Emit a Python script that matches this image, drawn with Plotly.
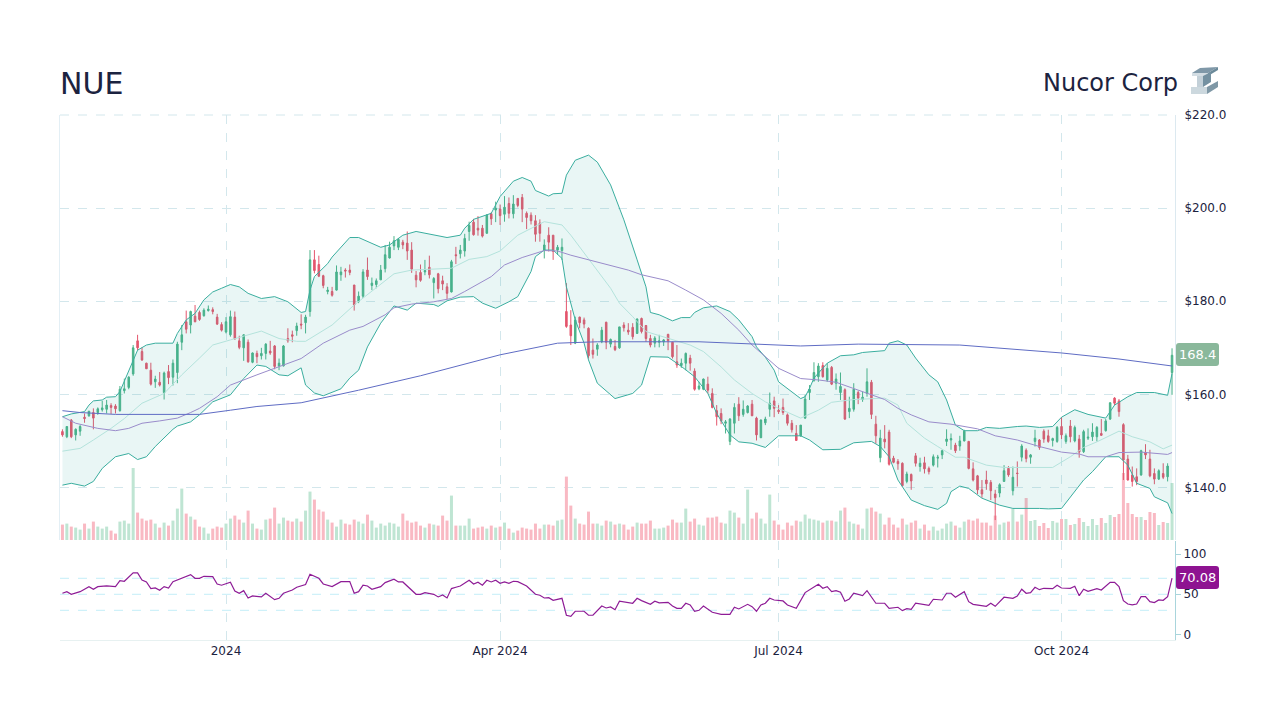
import plotly.graph_objects as go

open_ = [152.0,150.9,154.5,151.3,152.1,155.1,155.4,156.1,156.1,156.7,156.8,157.6,157.5,156.5,160.8,161.5,164.4,171.5,169.2,166.7,165.2,162.7,162.6,160.4,164.9,163.7,164.7,171.2,175.6,174.9,176.8,177.6,176.9,178.0,178.2,176.6,175.0,173.4,172.8,176.6,171.5,170.0,171.2,166.9,168.8,168.3,168.8,169.3,170.4,166.1,166.1,172.0,
172.8,173.7,175.1,175.4,177.8,188.9,187.9,185.5,182.1,182.1,182.4,185.7,186.7,186.7,183.5,180.0,181.1,186.7,183.4,183.6,184.6,187.0,189.3,191.9,191.6,192.7,192.5,191.0,185.6,186.2,186.3,187.3,184.0,185.9,184.4,183.1,182.0,190.0,190.2,190.8,195.0,197.0,195.7,195.7,194.6,198.8,199.6,199.8,198.7,201.0,198.8,202.1,202.3,198.9,198.5,197.3,196.8,191.0,194.2,194.2,191.0,190.9,
177.8,174.9,171.0,176.6,176.0,174.2,169.5,169.7,171.3,175.5,170.8,170.3,170.0,174.9,173.8,174.4,173.1,176.3,174.8,172.0,171.0,171.2,171.3,172.9,171.2,167.0,166.2,166.7,167.8,165.0,161.2,161.1,162.2,160.2,156.5,155.9,153.8,149.9,153.8,157.9,155.7,156.1,157.9,154.9,150.7,153.9,156.8,158.6,156.6,157.2,155.6,153.8,151.6,151.1,154.9,
160.4,163.0,163.8,166.2,163.1,165.8,162.4,160.4,161.0,156.3,156.8,160.4,158.9,160.2,162.6,153.6,146.4,150.4,151.9,146.3,145.6,145.2,141.3,142.8,146.8,144.5,145.3,144.1,144.8,146.3,147.0,149.9,150.2,149.1,148.9,150.0,149.9,144.0,142.5,139.5,141.6,141.1,138.6,138.8,141.3,144.1,139.3,143.1,146.5,148.0,146.5,149.9,150.2,152.1,151.1,150.1,149.9,153.1,149.9,153.2,150.0,150.4,147.7,150.6,150.9,150.9,151.6,152.2,154.7,159.2,158.6,153.5,146.1,142.7,142.3,142.7,147.5,146.1,143.0,141.8,143.0,142.3,164.7]
high = [152.5,153.1,154.7,152.7,153.4,155.9,156.4,157.0,157.2,158.6,158.8,158.1,157.9,161.8,163.4,163.9,170.6,172.8,170.1,166.8,166.8,164.0,164.8,164.9,166.3,167.5,171.3,174.9,178.0,178.0,179.2,178.0,178.5,179.1,178.7,177.3,175.5,176.6,178.0,177.8,172.6,172.9,171.8,169.0,169.4,170.0,171.0,171.5,170.6,167.7,170.6,174.2,
173.7,175.4,177.2,177.1,191.0,191.0,189.8,185.7,183.1,183.1,187.7,187.4,187.1,187.9,183.5,182.1,186.9,189.4,185.1,184.9,187.8,192.1,192.8,194.0,193.6,193.2,195.0,192.7,186.5,187.9,188.9,189.8,185.2,186.1,185.5,183.9,188.9,191.7,192.1,194.5,197.1,197.7,198.3,196.4,198.7,199.1,201.4,200.8,202.6,202.3,202.8,202.1,203.05,199.3,199.1,198.5,197.6,193.3,195.9,194.2,192.1,193.5,
183.9,178.1,176.7,176.7,176.5,174.4,172.0,171.0,174.5,175.6,172.0,171.7,174.5,175.5,175.3,175.3,176.3,176.5,174.9,172.8,172.5,172.8,171.9,173.0,171.3,170.6,167.7,169.0,168.5,165.6,162.7,163.4,163.8,161.3,157.7,157.0,154.5,154.9,158.1,159.4,158.7,157.7,158.8,155.2,154.6,155.2,160.4,159.5,157.7,159.1,155.9,154.5,153.4,153.4,159.9,
162.0,166.9,166.7,166.9,166.7,166.1,164.5,164.7,161.3,159.5,162.4,160.8,160.6,165.6,163.1,155.4,152.4,153.4,152.4,146.8,146.1,145.4,143.4,143.0,147.4,146.4,146.6,144.5,147.1,147.0,148.1,152.5,151.6,149.6,151.1,152.4,150.0,145.4,142.7,141.6,143.6,141.6,139.5,140.9,144.8,144.6,144.5,145.6,149.3,148.4,147.2,152.4,150.4,152.5,152.4,150.7,153.2,155.1,151.6,154.5,153.3,151.3,152.4,152.7,153.8,153.2,154.7,154.7,158.3,159.4,159.0,153.8,147.0,144.5,144.1,148.1,149.3,148.1,144.1,143.9,145.2,145.2,169.9]
low = [150.9,150.6,150.6,150.1,151.1,153.9,155.2,152.5,155.6,156.3,155.9,155.8,155.9,156.3,160.2,161.1,164.0,169.5,167.2,165.5,161.9,161.4,161.7,158.9,162.2,161.9,162.4,169.5,173.1,173.1,175.5,175.8,176.7,177.8,177.2,174.9,173.5,173.1,172.4,171.8,169.7,167.2,166.8,166.7,166.7,167.5,167.5,168.5,165.4,165.2,166.0,171.1,
171.2,172.6,174.0,173.1,176.7,186.0,185.2,182.8,181.5,181.0,182.3,184.4,185.1,185.6,178.0,179.6,180.7,184.6,182.4,182.8,184.6,186.2,189.2,191.0,191.0,191.2,188.9,186.1,183.0,184.2,185.6,184.9,180.6,181.7,182.4,180.5,181.9,188.0,189.2,189.6,193.0,194.1,194.1,193.7,194.6,196.4,197.0,196.4,197.1,197.8,197.8,200.2,197.0,195.5,196.5,192.8,192.8,189.2,190.7,188.9,190.0,188.9,
174.3,170.6,170.8,174.2,174.2,167.7,167.7,168.3,171.0,169.7,170.1,169.3,169.8,173.5,172.8,171.8,173.0,173.1,171.3,170.1,170.1,170.1,170.4,169.5,167.7,165.7,165.7,165.2,165.1,160.8,160.9,160.9,160.2,157.0,153.3,153.6,151.6,149.1,151.6,154.3,155.2,155.9,155.4,150.1,150.6,153.4,155.2,155.1,155.8,155.6,153.3,151.8,150.0,150.9,154.7,
158.8,162.7,162.7,163.6,162.7,162.0,161.0,158.8,154.5,154.9,156.3,157.9,158.4,159.5,154.7,149.4,145.4,148.4,144.7,145.2,143.8,140.2,140.9,139.5,144.5,143.4,143.0,142.8,144.5,144.3,146.1,148.9,148.1,147.4,147.9,149.9,143.9,141.3,138.6,137.8,139.5,137.3,133.0,137.9,141.3,142.3,138.3,140.2,145.6,145.4,145.1,148.8,148.1,149.6,149.6,148.8,149.6,150.4,149.4,149.7,149.7,146.4,147.4,150.2,150.0,149.9,151.1,152.0,154.5,157.7,155.2,141.6,141.5,140.2,140.5,142.5,146.1,142.2,140.7,141.6,141.8,141.3,159.9]
close = [151.3,153.1,150.9,152.5,153.1,154.8,156.4,154.9,156.9,157.1,157.7,157.2,156.9,161.1,161.2,163.7,170.0,170.0,167.4,165.5,162.2,163.3,162.0,164.6,163.6,166.7,170.8,172.8,174.0,177.8,175.6,176.1,178.1,178.3,177.8,175.1,173.8,175.6,176.7,171.9,170.1,172.8,167.0,168.9,168.1,168.8,170.8,168.9,166.0,166.7,170.4,171.5,
172.5,174.7,174.9,176.6,188.9,186.6,185.4,183.4,182.4,181.3,186.3,186.3,186.5,186.2,179.2,181.1,186.3,185.3,183.9,184.4,186.7,190.0,191.6,193.0,193.3,192.1,190.8,186.9,184.6,184.5,186.6,185.7,184.9,182.7,183.7,181.7,188.5,189.8,191.0,193.5,196.3,194.3,195.3,194.0,198.5,197.7,200.0,198.4,200.2,198.9,200.9,200.6,199.8,198.0,197.3,194.4,194.6,192.1,192.7,190.7,191.6,191.6,
174.6,172.6,176.0,175.4,175.1,168.3,168.6,170.6,173.8,171.2,171.8,169.6,174.5,174.3,173.4,172.4,176.2,173.5,172.0,170.6,172.1,171.5,171.7,171.5,168.1,166.3,166.7,168.8,166.7,161.1,161.8,163.3,160.9,157.2,155.2,154.3,154.1,154.7,157.2,155.4,156.8,157.5,155.4,151.3,154.5,154.7,158.1,157.0,156.3,156.1,153.8,152.4,150.1,153.4,159.0,
161.1,164.7,166.1,163.8,165.6,162.2,163.3,161.7,154.7,157.0,161.1,159.2,159.4,162.7,155.7,151.1,150.6,149.8,145.0,145.4,145.1,140.4,142.9,141.4,145.2,145.2,144.0,143.4,146.6,146.5,147.9,150.4,150.5,147.9,150.0,152.1,144.1,141.6,139.5,138.6,140.8,139.3,137.8,140.6,143.6,142.7,142.2,143.0,148.9,146.2,147.0,150.6,148.6,150.4,149.9,150.5,152.9,151.3,151.1,150.9,152.9,147.6,152.0,150.8,151.9,152.9,151.2,154.3,158.2,158.1,156.3,145.9,141.6,141.3,141.3,147.9,147.0,142.5,141.8,143.6,142.2,144.6,168.4]
volume_m = [.77,.82,.67,.62,.52,.82,.57,.92,.67,.57,.67,.47,.32,.92,.97,.82,3.6,1.37,1.07,.97,1.02,.82,.62,.87,.72,.97,1.57,2.57,1.32,1.17,1.02,.67,.62,.32,.57,.67,.62,
.82,1.07,1.22,1.02,.87,1.47,.82,.57,.52,1.02,1.07,1.62,.82,1.12,.97,.92,1.07,.92,1.47,2.42,2.02,1.52,1.42,1.02,.87,.67,1.02,.82,.77,1.02,.92,.82,1.27,.97,.62,.82,.72,.87,.82,.67,1.32,.97,.87,.92,.72,.62,.82,.77,.72,1.22,.97,2.22,.72,.72,.72,1.07,.57,.62,.67,.57,.72,.62,.67,.87,.57,.37,.47,.62,.57,.52,.82,.57,.77,.77,.72,.97,1.02,3.17,1.72,1.07,.82,.77,1.42,.82,.82,.72,.97,.92,.77,.82,
.77,.52,.67,.87,.82,.82,.97,.57,.57,.62,.72,1.02,.87,.87,1.57,.92,1.07,.77,.72,1.12,1.12,1.17,.87,.82,1.47,1.37,1.12,.82,2.52,1.07,1.37,1.07,.82,2.27,.97,.77,.52,.87,.72,.97,.92,1.27,1.07,1.02,.97,.87,.97,.97,.92,1.47,1.62,.92,.82,.77,.57,1.57,1.62,1.42,1.32,.77,1.12,.77,.62,1.07,.77,.87,.97,.57,.77,.47,.67,.47,.57,.82,.92,.72,.62,.92,1.02,.97,1.07,.87,.87,.72,1.22,.77,.87,.92,1.55,.92,1.27,
2.1,.95,1.0,.7,.85,.6,.95,.87,1.05,1.05,.75,.8,1.1,.9,.7,1.05,.75,1.1,.85,1.25,1.15,1.3,3.35,1.85,1.3,1.15,1.15,1.0,1.4,1.35,.75,.9,.85,2.85]

upper_i = [0,2,5,6,7,9,10,12,13,15,17,19,21,25,26,28,30,32,34,36,38,40,42,45,48,51,54,55,56,57,60,61,65,67,70,72,74,77,80,84,87,90,91,93,97,99,102,104,106,107,110,111,113,114,116,119,121,124,127,130,132,133,135,138,140,142,143,145,148,151,153,156,157,159,161,162,164,167,168,169,170,173,176,179,181,186,187,189,191,193,196,198,200,202,204,207,209,212,216,218,221,224,226,229,232,235,236,238,241,243,247,250,251]
upper_v = [155.2,155.8,156.3,157.7,158.6,158.8,159.4,159.5,160.6,164.9,169.5,170.6,171.0,171.0,173.1,176.0,177.4,180.3,182.0,182.8,183.6,183.1,181.7,180.6,181.0,179.9,177.6,177.8,182.4,185.3,188.1,189.5,193.7,193.7,192.5,191.6,192.1,194.2,195.0,194.2,193.7,194.2,195.7,197.6,198.9,202.5,205.8,206.6,205.8,203.8,202.6,203.1,203.2,207.1,210.3,211.4,209.9,205.0,197.5,188.9,183.1,177.6,177.1,175.8,176.5,176.5,177.6,178.6,179.0,177.8,176.0,172.4,170.2,168.0,165.2,162.7,161.3,159.1,159.5,161.3,163.5,166.7,168.3,168.5,169.0,169.4,171.0,171.5,170.6,167.8,164.2,162.7,158.8,153.4,152.2,152.2,152.9,152.7,153.1,153.2,152.9,153.1,155.1,156.7,155.7,155.2,154.9,157.7,159.5,160.4,160.4,159.8,164.5]
lower_i = [0,2,5,7,9,12,15,17,19,21,25,26,29,31,34,36,38,41,44,46,49,51,54,55,57,59,63,65,67,69,72,75,78,80,84,85,87,90,93,95,98,101,103,106,107,109,111,113,114,116,118,119,121,125,129,131,132,133,137,140,143,146,148,151,153,156,159,162,165,167,169,172,176,179,183,185,187,189,192,195,198,200,201,203,205,208,212,215,221,223,226,228,231,233,236,239,241,243,246,247,250,251]
lower_v = [140.5,140.9,140.3,141.3,144.1,146.6,147.3,146.0,146.6,148.8,152.5,153.2,154.1,155.6,158.4,159.1,159.9,163.4,166.3,166.0,164.2,164.0,165.7,162.0,160.3,159.7,161.2,163.5,165.2,170.2,175.3,179.0,178.1,179.6,179.3,178.9,180.1,180.9,181.0,179.6,178.5,179.9,181.0,186.4,189.6,191.0,191.0,189.2,183.1,176.0,171.0,167.4,162.4,159.1,160.2,162.0,165.2,168.1,168.0,166.0,163.8,160.2,155.9,151.3,149.8,149.5,148.6,151.1,151.1,151.1,150.2,148.1,148.2,149.6,149.9,148.8,146.6,141.6,137.3,136.1,135.3,136.6,139.1,140.3,139.8,137.7,136.2,135.5,135.5,135.4,135.5,138.0,141.6,143.4,146.6,146.6,144.8,140.9,139.8,138.0,136.7,134.4]
ma20_i = [0,4,7,11,14,18,23,27,31,34,38,43,45,49,53,55,61,66,75,79,85,88,92,96,99,103,109,113,115,121,124,126,129,132,138,142,145,149,152,156,159,162,167,171,174,179,186,189,191,195,198,202,204,209,213,221,224,228,231,234,239,242,246,249,251]
ma20_v = [147.8,148.4,150.2,152.7,154.8,158.1,160.2,164.2,167.8,170.6,171.7,173.1,173.6,172.0,171.4,171.4,174.9,179.2,185.9,186.7,186.9,187.1,189.0,189.6,190.8,194.2,197.1,196.4,194.2,186.7,182.8,179.6,176.7,173.5,171.8,170.6,169.2,165.9,163.1,160.2,158.4,157.0,154.9,156.6,158.3,158.9,159.2,157.7,153.8,150.6,148.8,146.5,146.5,144.8,144.3,144.3,144.3,146.6,148.6,149.8,152.1,150.9,149.8,148.3,149.1]
ma50_i = [0,3,8,12,15,18,22,26,29,31,35,38,44,49,54,59,65,68,73,75,79,84,88,91,97,100,104,109,112,115,128,131,137,141,145,149,153,156,159,162,167,171,175,179,183,186,189,192,196,201,207,211,216,221,226,230,232,236,239,244,250,251]
ma50_v = [155.2,153.8,152.7,152.2,152.7,153.8,154.3,154.9,156.1,157.0,159.5,162.0,164.2,166.0,167.7,171.0,173.8,174.6,177.1,178.6,179.4,179.9,180.6,182.1,185.3,187.8,189.4,190.9,190.8,189.9,186.7,185.7,184.4,182.4,180.3,177.4,173.8,170.6,168.0,165.6,163.4,163.1,162.6,161.3,159.9,158.9,157.0,155.6,154.1,153.6,152.6,151.1,150.2,148.8,147.6,147.2,146.6,146.6,147.5,147.6,147.1,147.5]
ma200_i = [0,4,12,31,38,44,54,67,81,99,112,121,144,167,180,203,226,239,251]
ma200_v = [156.5,156.1,155.7,155.7,156.6,157.4,158.2,160.9,164.0,168.5,171.0,171.3,171.3,170.4,170.8,170.6,168.9,167.6,166.1]
rsi_i = [0,1,2,4,6,7,8,10,12,13,14,16,17,18,19,20,21,22,23,24,25,27,28,29,30,31,32,34,35,36,38,39,40,41,42,43,45,46,48,49,50,52,53,55,56,58,59,61,63,65,66,67,68,69,70,72,73,74,75,76,77,80,81,82,84,85,86,87,88,89,90,92,93,94,95,96,97,98,99,100,101,102,103,105,107,108,109,110,111,113,114,115,116,118,119,120,122,123,124,125,126,129,130,131,133,134,135,137,138,139,140,141,142,143,144,145,147,149,151,152,153,155,156,157,158,159,160,161,163,164,166,168,170,171,172,173,174,175,176,177,178,179,181,182,184,186,187,189,190,191,192,193,196,197,199,200,201,202,204,205,206,209,210,211,213,215,216,217,218,219,220,221,222,224,225,226,228,229,230,231,232,234,235,237,238,239,240,241,242,243,244,245,246,247,248,249,250,251]
rsi_v = [51.3,53.3,50,53.3,59.6,56.3,59.6,60.4,59.6,67.1,66.3,76.7,76.7,67.9,65.4,57.1,57.9,55,59.6,57.9,65.8,70,71.7,74.6,70,70,72.5,72.1,62.9,61.3,65,54.2,51.3,54.6,45.4,47.9,46.7,51.3,43.3,45,51.3,55.4,58.8,62.1,75,70,62.9,59.6,65.8,65.8,51.3,53.3,61.3,60.4,56.3,59.6,64.6,66.3,68.8,65.4,65.4,50,50,52.1,50,46.7,49.2,45.4,57.1,58.8,60.4,67.5,62.9,65,61.3,67.5,65.4,67.5,63.8,65.4,63.8,66.3,65.8,60.4,50,48.8,45.4,45.8,42.5,45,23.8,22.5,28.8,28.8,23.8,23.8,35.4,32.9,34.2,30.8,41.3,38.8,45,42.1,37.5,41.3,39.2,40,35.4,32.5,32.5,38.8,36.7,28.8,30,35.4,27.5,25,25,33.8,31.7,37.5,34.6,28.8,36.7,38.8,45,42.9,41.7,36.7,32.5,52.1,59.6,62.5,57.5,59.6,53.3,54.6,52.5,41.3,44.2,51.3,48.3,54.6,38.8,38.8,32.5,33.8,29.6,32.1,31.3,38.8,36.3,43.8,42.9,51.3,51.3,46.3,53.3,40.8,37.5,35,38.8,35,46.3,45,47.9,56.3,51.3,52.1,58.8,55.8,57.5,57.1,61.3,57.9,57.5,60,48.3,56.3,53.8,57.1,55.4,65,65,59.6,42.1,37.9,36.7,37.9,47.1,47.1,40.8,39.6,42.9,42.5,47.1,70.08]
tick_positions = [37, 99, 162, 226]
tick_labels = ["2024", "Apr 2024", "Jul 2024", "Oct 2024"]
price_ticks = [140, 160, 180, 200, 220]
price_tick_labels = ["$140.0", "$160.0", "$180.0", "$200.0", "$220.0"]
rsi_ticks = [0, 50, 100]
rsi_levels = [30, 50, 70]

GREEN, RED = "#4cb38a", "#e4566d"
GREEN_V, RED_V = "#bfe5d3", "#f9b9c3"
TEXT = "#1c2340"
GRID = "#d3e7ec"
FONT = "DejaVu Sans"
x = list(range(len(close)))

def px(xp, yp):
    return (xp - 60) / 1115, (640 - yp) / 525

def poly(points, color):
    coords = [px(*p) for p in points]
    path = "M " + " L ".join(f"{a:.5f},{b:.5f}" for a, b in coords) + " Z"
    return dict(type="path", xref="paper", yref="paper", path=path,
                fillcolor=color, line=dict(width=0), layer="above")

def round_box(x0, y0, x1, y1, r, color):
    a0, b0 = px(x0, y0); a1, b1 = px(x1, y1)
    rx, ry = r / 1115, r / 525
    path = (f"M {a0+rx:.5f},{b0:.5f} L {a1-rx:.5f},{b0:.5f} Q {a1:.5f},{b0:.5f} {a1:.5f},{b0-ry:.5f} "
            f"L {a1:.5f},{b1+ry:.5f} Q {a1:.5f},{b1:.5f} {a1-rx:.5f},{b1:.5f} "
            f"L {a0+rx:.5f},{b1:.5f} Q {a0:.5f},{b1:.5f} {a0:.5f},{b1+ry:.5f} "
            f"L {a0:.5f},{b0-ry:.5f} Q {a0:.5f},{b0:.5f} {a0+rx:.5f},{b0:.5f} Z")
    return dict(type="path", xref="paper", yref="paper", path=path, fillcolor=color,
                line=dict(width=0), layer="above")

fig = go.Figure()
fig.add_trace(go.Bar(x=x, y=volume_m, yaxis="y", xaxis="x",
                     marker=dict(color=[GREEN_V if c >= o else RED_V for o, c in zip(open_, close)], line=dict(width=0)),
                     width=0.68, showlegend=False, hoverinfo="skip"))
fig.add_trace(go.Scatter(x=lower_i, y=lower_v, yaxis="y2", mode="lines", line=dict(color="#3aae9f", width=1), showlegend=False))
fig.add_trace(go.Scatter(x=upper_i, y=upper_v, yaxis="y2", mode="lines", line=dict(color="#3aae9f", width=1),
                         fill="tonexty", fillcolor="rgba(38,166,154,0.10)", showlegend=False))
fig.add_trace(go.Candlestick(x=x, open=open_, high=high, low=low, close=close, yaxis="y2",
                             increasing=dict(line=dict(color=GREEN, width=1), fillcolor=GREEN),
                             decreasing=dict(line=dict(color=RED, width=1), fillcolor=RED),
                             whiskerwidth=0, showlegend=False))
fig.add_trace(go.Scatter(x=ma20_i, y=ma20_v, yaxis="y2", mode="lines", line=dict(color="#b4e3dc", width=1), showlegend=False))
fig.add_trace(go.Scatter(x=ma50_i, y=ma50_v, yaxis="y2", mode="lines", line=dict(color="#9a8ccb", width=1), showlegend=False))
fig.add_trace(go.Scatter(x=ma200_i, y=ma200_v, yaxis="y2", mode="lines", line=dict(color="#5f6cc4", width=1), showlegend=False))
fig.add_trace(go.Scatter(x=rsi_i, y=rsi_v, yaxis="y3", mode="lines", line=dict(color="#8e1c96", width=1.2), showlegend=False))

shapes = [dict(type="line", xref="paper", yref="y3", x0=0, x1=1, y0=v, y1=v, layer="below",
               line=dict(color="#c4eef8", width=1, dash="dash")) for v in rsi_levels]
shapes.append(dict(type="line", xref="paper", yref="paper", x0=0, x1=1, y0=1, y1=1, layer="below",
                   line=dict(color=GRID, width=1, dash="dash")))
shapes += [round_box(1176, 343, 1219, 366, 3, "#8ab89b"), round_box(1176, 566, 1219, 589, 3, "#8e1391")]
shapes += [
    poly([(1192, 73), (1200, 68), (1218, 67), (1208, 73)], "#7f98a8"),
    poly([(1192, 73), (1208, 73), (1208, 76), (1192, 76)], "#d3dde3"),
    poly([(1208, 73), (1218, 67), (1218, 70), (1208, 76)], "#6b8a9a"),
    poly([(1197, 76), (1203, 76), (1203, 87), (1197, 87)], "#c3d0d8"),
    poly([(1203, 76), (1211, 72), (1211, 82), (1203, 87)], "#7491a1"),
    poly([(1191, 87), (1207, 87), (1207, 94), (1191, 94)], "#ccd8de"),
    poly([(1207, 87), (1218, 81), (1218, 87), (1207, 94)], "#7f98a6"),
]
fig.update_layout(
    width=1280, height=720, autosize=False,
    margin=dict(l=60, r=105, t=115, b=80),
    paper_bgcolor="white", plot_bgcolor="white",
    font=dict(family=FONT, color=TEXT, size=12),
    showlegend=False, boxgap=0.5, bargap=0.3,
    shapes=shapes,
    xaxis=dict(domain=[0, 1], range=[-0.55, 251.67], anchor="y3", tickmode="array",
               tickvals=tick_positions, ticktext=tick_labels, showgrid=True, gridcolor=GRID,
               griddash="dash", gridwidth=1, zeroline=False, showline=True, linecolor="#e7f1f1",
               ticks="", rangeslider=dict(visible=False), tickfont=dict(size=12)),
    yaxis=dict(domain=[0.1905, 1], range=[0, 21.25], showgrid=False, showticklabels=False,
               zeroline=False, showline=True, linecolor="#e3eff5", mirror=False, anchor="x", fixedrange=True),
    yaxis2=dict(domain=[0.1905, 1], range=[128.72, 220.02], overlaying="y", side="right", anchor="x",
                tickmode="array", tickvals=price_ticks, ticktext=price_tick_labels,
                showgrid=True, gridcolor=GRID, griddash="dash", gridwidth=1, zeroline=False,
                showline=True, linecolor="#dce9f0", ticks="outside", ticklen=6, tickcolor="rgba(0,0,0,0)",
                tickfont=dict(size=12)),
    yaxis3=dict(domain=[0, 0.1886], range=[-7.1, 116.6], side="right", anchor="x",
                tickmode="array", tickvals=rsi_ticks, showgrid=False, zeroline=False,
                showline=True, linecolor="#a9d5dc", ticks="outside", ticklen=5, tickcolor="#a9d5dc",
                tickfont=dict(size=12)),
    annotations=[
        dict(xref="paper", yref="paper", x=px(58, 83)[0], y=px(60, 83)[1], text="NUE", showarrow=False,
             xanchor="left", yanchor="middle", font=dict(size=30, color=TEXT, family=FONT)),
        dict(xref="paper", yref="paper", x=px(1180, 83)[0], y=px(60, 83)[1], text="Nucor Corp", showarrow=False,
             xanchor="right", yanchor="middle", font=dict(size=24, color=TEXT, family=FONT)),
        dict(xref="paper", yref="paper", x=px(1197.5, 354.5)[0], y=px(60, 354.5)[1], text="168.4", showarrow=False,
             xanchor="center", yanchor="middle", font=dict(size=13, color="white", family=FONT)),
        dict(xref="paper", yref="paper", x=px(1197.5, 577.5)[0], y=px(60, 577.5)[1], text="70.08", showarrow=False,
             xanchor="center", yanchor="middle", font=dict(size=13, color="white", family=FONT)),
    ],
)
fig.write_html("out.html", config={"displayModeBar": False}, post_script="document.body.style.margin='0';")
